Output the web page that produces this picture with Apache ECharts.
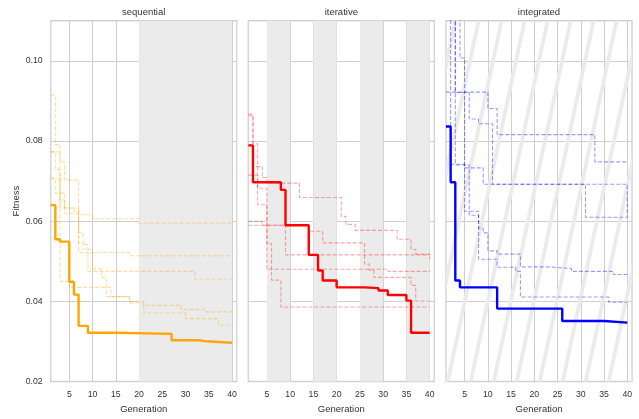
<!DOCTYPE html>
<html><head><meta charset="utf-8">
<script src="https://cdn.jsdelivr.net/npm/echarts@6/dist/echarts.min.js"></script>
<style>html,body{margin:0;padding:0;background:#fff;}#c{width:639px;height:419px;}</style>
</head><body><div id="c"></div><script>
// ---- data ----
const panelTitles = ['sequential', 'iterative', 'integrated'];
const xTicks = [5, 10, 15, 20, 25, 30, 35, 40];
const yMin = 0.02, yMax = 0.11, yStep = 0.02;
const xMin = 1, xMax = 41;

// sequential: [generation, fitness] change points
const seqBest = [[1,0.0640],[2,0.0555],[3,0.0549],[5,0.0449],[6,0.0417],[7,0.0339],[9,0.0322],[15,0.0319],[27,0.0303],[33,0.0301],[34,0.0297],[40,0.0297]];
const seqRunA = [[1,0.0707],[3,0.0633],[6,0.0625],[7,0.0616],[10,0.0606],[20,0.0595],[40,0.0595]];
const seqRunB = [[1,0.0915],[2,0.0791],[3,0.0748],[4,0.0703],[7,0.0522],[18,0.0514],[40,0.0514]];
const seqRunC = [[1,0.0773],[2,0.0729],[3,0.0653],[4,0.0633],[7,0.0571],[8,0.0542],[9,0.0475],[32,0.0456],[40,0.0456]];
const seqRunD = [[1,0.0707],[2,0.0670],[4,0.0620],[7,0.0545],[8,0.0530],[10,0.0481],[12,0.0460],[13,0.0412],[18,0.0396],[21,0.0390],[29,0.0380],[34,0.0374],[40,0.0374]];
const seqRunE = [[1,0.0773],[3,0.0450],[5,0.0435],[14,0.0412],[18,0.0399],[21,0.0371],[30,0.0357],[37,0.0341],[40,0.0341]];

// iterative
const itBest = [[1,0.0789],[2,0.0697],[8,0.0678],[9,0.0590],[14,0.0516],[16,0.0477],[17,0.0452],[20,0.0435],[26,0.0433],[29,0.0427],[31,0.0416],[35,0.0402],[36,0.0322],[40,0.0322]];
const itRunA = [[1,0.0863],[2,0.0793],[3,0.0641],[5,0.0480],[31,0.0475],[40,0.0475]];
const itRunB = [[1,0.0867],[2,0.0736],[4,0.0709],[5,0.0695],[12,0.0659],[21,0.0612],[22,0.0592],[24,0.0577],[33,0.0555],[36,0.0530],[37,0.0518],[40,0.0505]];
const itRunC = [[1,0.0600],[4,0.0590],[14,0.0575],[17,0.0546],[26,0.0493],[27,0.0477],[28,0.0460],[36,0.0440],[37,0.0401],[40,0.0401]];
const itRunD = [[1,0.0590],[9,0.0516],[40,0.0516]];
const itRunE = [[1,0.0715],[3,0.0682],[5,0.0544],[6,0.0453],[8,0.0386],[40,0.0386]];

// integrated
const inBest = [[1,0.0836],[2,0.0697],[3,0.0452],[4,0.0435],[12,0.0382],[26,0.0351],[35,0.0347],[40,0.0347]];
const inRunA = [[1,0.115],[2,0.0742],[5,0.0733],[9,0.0692],[31,0.0610],[40,0.0610]];
const inRunB = [[1,0.0922],[10,0.0881],[12,0.0816],[33,0.0748],[40,0.0748]];
const inRunC = [[1,0.115],[4,0.1007],[5,0.0625],[8,0.0505],[12,0.0485],[16,0.0475],[17,0.0411],[36,0.0398],[40,0.0398]];
const inRunD = [[1,0.115],[3,0.0740],[6,0.0615],[8,0.0583],[9,0.0571],[10,0.0526],[12,0.0518],[17,0.0486],[23,0.0482],[28,0.0475],[37,0.0467],[40,0.0467]];
const inRunE = [[1,0.115],[3,0.0921],[6,0.0855],[8,0.0843],[11,0.0692],[40,0.0610]];

// shaded generation bands
const seqBands = [[20, 40]];
const itBands = [[5, 10], [15, 20], [25, 30], [35, 40]];
const inBands = [[1, 41]];

// ---- layout / style ----
const panels = [
  {best: seqBest, runs: [seqRunA, seqRunB, seqRunC, seqRunD, seqRunE], color: '#FFA500', dashOp: 0.38, bands: seqBands, hatch: false},
  {best: itBest, runs: [itRunA, itRunB, itRunC, itRunD, itRunE], color: '#FF0000', dashOp: 0.35, bands: itBands, hatch: false},
  {best: inBest, runs: [inRunA, inRunB, inRunC, inRunD, inRunE], color: '#0000FF', dashOp: 0.4, bands: inBands, hatch: true}
];
const gridLefts = [50.7, 248.3, 446];
const gridTop = 20.7, gridH = 364.7, gridW = 186;
const FONT = 'Liberation Sans, Arial, sans-serif';

function hatchCanvas() {
  const W = 23, H = 108;
  const c = document.createElement('canvas');
  c.width = W; c.height = H;
  const g = c.getContext('2d');
  g.strokeStyle = '#ebebeb';
  g.lineWidth = 3.8;
  for (const o of [-W, 0, W]) {
    g.beginPath(); g.moveTo(o, H); g.lineTo(o + W, 0); g.stroke();
  }
  return c;
}
const hatchPattern = {image: hatchCanvas(), repeat: 'repeat'};

const grids = [], xAxes = [], yAxes = [], series = [], graphics = [];
panels.forEach((p, i) => {
  grids.push({left: gridLefts[i], top: gridTop, width: gridW, height: gridH, show: true,
    borderColor: '#d6d6d6', borderWidth: 1.5, backgroundColor: 'transparent'});
  xAxes.push({type: 'value', gridIndex: i, min: xMin, max: xMax,
    name: 'Generation', nameLocation: 'middle', nameGap: 21,
    nameTextStyle: {fontSize: 9.5, color: '#333', fontFamily: FONT},
    axisLine: {show: false},
    axisTick: {show: false, customValues: xTicks},
    axisLabel: {customValues: xTicks, fontSize: 8.7, color: '#333', fontFamily: FONT, margin: 8.5},
    splitLine: {show: true, lineStyle: {color: '#cfcfcf', width: 1}}
  });
  yAxes.push({type: 'value', gridIndex: i, min: yMin, max: yMax, interval: yStep,
    name: i === 0 ? 'Fitness' : '', nameLocation: 'middle', nameGap: 29,
    nameTextStyle: {fontSize: 9.5, color: '#333', fontFamily: FONT},
    axisLine: {show: false}, axisTick: {show: false},
    axisLabel: {show: i === 0, showMaxLabel: false, fontSize: 8.7, color: '#333', fontFamily: FONT, margin: 8,
      formatter: v => v.toFixed(2)},
    splitLine: {show: true, lineStyle: {color: '#cfcfcf', width: 1}}
  });
  series.push({type: 'line', xAxisIndex: i, yAxisIndex: i, data: [], z: -1, silent: true,
    markArea: {silent: true,
      itemStyle: {color: p.hatch ? hatchPattern : '#ebebeb'},
      data: p.bands.map(b => [{xAxis: b[0]}, {xAxis: b[1]}])}
  });
  p.runs.forEach(r => {
    series.push({type: 'line', xAxisIndex: i, yAxisIndex: i, data: r, step: 'end',
      symbol: 'none', silent: true, z: 3,
      lineStyle: {color: p.color, width: 1.1, type: [4, 2], opacity: p.dashOp}});
  });
  series.push({type: 'line', xAxisIndex: i, yAxisIndex: i, data: p.best, step: 'end',
    symbol: 'none', silent: true, z: 4,
    lineStyle: {color: p.color, width: 2.4}});
  graphics.push({type: 'text', x: gridLefts[i] + gridW / 2, y: 12,
    style: {text: panelTitles[i], fontSize: 9.5, fill: '#333', fontFamily: FONT,
      textAlign: 'center', textVerticalAlign: 'middle'}});
});

const chart = echarts.init(document.getElementById('c'), null, {renderer: 'canvas'});
chart.setOption({
  animation: false,
  backgroundColor: '#fff',
  grid: grids, xAxis: xAxes, yAxis: yAxes, series: series,
  graphic: graphics
});
</script></body></html>
